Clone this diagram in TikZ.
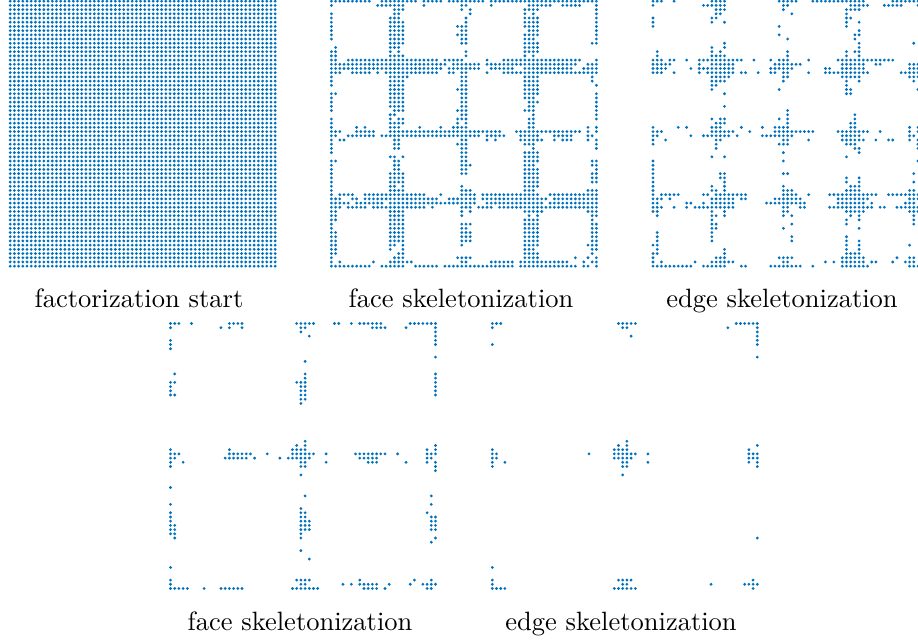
\documentclass[tikz,border=0pt]{standalone}
\usepackage{tikz}
\usepackage{xcolor}
\definecolor{spblue}{HTML}{0072BD}
\tikzset{
  spdot/.style={fill=spblue, draw=none},
  splabel/.style={anchor=base, inner sep=0pt, text=black}
}
\newcommand{\sprow}[2]{\foreach \a/\b in {#2}{\foreach \c in {\a,...,\b}{\fill[spdot] (4.206*\c,4.206*#1) circle (1.55);}}}
\begin{document}
\begin{tikzpicture}[x=0.01326cm, y=-0.01326cm]
\useasboundingbox (0,0) rectangle (918,640);
% factorization start
\begin{scope}[shift={(10.2,1.2)}]
\foreach \r in {0,...,63} {\sprow{\r}{0/63}}
\end{scope}
% face skeletonization
\begin{scope}[shift={(331.4,1.2)}]
\sprow{0}{0/9,12/20,22/26,28/36,38/63}
\sprow{1}{0,11/17,22,31/32,38,47/52,55/59,63}
\sprow{2}{15/17,31,33,46/49,63}
\sprow{3}{0,15/16,33,46,48,63}
\sprow{4}{0,14/16,32,46/49,63}
\sprow{5}{0,14/17,32,46/49,63}
\sprow{6}{0,14/17,30/32,46/49,63}
\sprow{7}{0,14/17,31/32,47/49,63}
\sprow{8}{0,14/17,30/32,46/49,63}
\sprow{9}{0,14/17,31/32,46/48,63}
\sprow{10}{14/17,31/32,46/49,62/63}
\sprow{11}{1,14/16,46/49}
\sprow{12}{0/1,14,16,32,46/49}
\sprow{13}{0/1,14/17,32,46,48}
\sprow{14}{0/1,4/25,27/31,37,41/59,63}
\sprow{15}{0/27,29/35,37/58,61/63}
\sprow{16}{0/26,28,29/35,38/43,46/57,60/63}
\sprow{17}{0/2,5/9,11,13/25,28/29,31/32,37,41/63}
\sprow{18}{0,14/18,31/32,46/49,62}
\sprow{19}{0,14/17,31/32,46/49,62}
\sprow{20}{0,14/17,31/32,46/49,63}
\sprow{21}{14/17,30/32,46/49}
\sprow{22}{0/1,14/17,31/32,46/49,63}
\sprow{23}{0,14/17,31/32,46/48,63}
\sprow{24}{0,14/17,31/32,47/49,63}
\sprow{25}{0,14/17,31/32,47/48,63}
\sprow{26}{0,15/17,30/32,46/48,63}
\sprow{27}{14/15,31/32,48,63}
\sprow{28}{0,14,16/17,30/32,47/48,63}
\sprow{29}{0,14/17,30,32,47/48}
\sprow{30}{0,6,8,14/16,21,26,29/32,47/48,61,63}
\sprow{31}{0/2,6/10,14/40,44/59,61,63}
\sprow{32}{0/1,4/10,12/35,37/41,45/49,53/57,61/62}
\sprow{33}{0,2/3,15/16,31/32,37,39,45/50,53,55/57,61,63}
\sprow{34}{0,15/16,30/32,46/48,63}
\sprow{35}{0,15/16,31/32,48,63}
\sprow{36}{0,31/32,46/49}
\sprow{37}{14/15,17,31/32,46/49}
\sprow{38}{0/1,15/16,31/32,46/49,62/63}
\sprow{39}{0,15/16,31/33,46/48,62/63}
\sprow{40}{0,15/16,31/32,46/49,63}
\sprow{41}{0,14/17,31/32,46/49,62/63}
\sprow{42}{0,14/17,46/49,62/63}
\sprow{43}{0,14/17,46/49,62/63}
\sprow{44}{0,14/15,17,31,46/49}
\sprow{45}{0,14/17,31/33,46/48,61/63}
\sprow{46}{0,2/5,8/22,26,31/34,36/49,52/63}
\sprow{47}{0/2,5/6,8/25,28/34,36/51,53/63}
\sprow{48}{0/4,6/12,14/34,37/50,52/63}
\sprow{49}{0/2,4/8,10/22,24,31/33,35/38,40/63}
\sprow{50}{0/1,14/17,31,33,46/50,61/63}
\sprow{51}{0/1,14/17,31,47,49,62/63}
\sprow{52}{0/1,14/17,46/49,62}
\sprow{53}{0,14/17,31/33,46/49,62/63}
\sprow{54}{0,14/17,31/32,46/49,62/63}
\sprow{55}{0/1,14/17,31/33,46/49,62/63}
\sprow{56}{0/1,14/17,31/33,46/49,62/63}
\sprow{57}{0/1,14/17,31/33,46/49,62/63}
\sprow{58}{0/1,14/15,17,31,46/49,61/63}
\sprow{59}{0/1,14,17,46/48,62/63}
\sprow{60}{0/1,16/17,46/49,62}
\sprow{61}{0,15/17,30/33,46/49,58,61,63}
\sprow{62}{0,2,10,14/19,31/32,38/43,45/56,60,62/63}
\sprow{63}{0/9,12/17,20/25,27/43,45/58,60/61,63}
\end{scope}
% edge skeletonization
\begin{scope}[shift={(653,1.2)}]
\sprow{0}{0/2,5,14/17,30/34,38/50,57/63}
\sprow{1}{0,12/17,31/32,47/51,55/59,63}
\sprow{2}{15/17,31,46/49}
\sprow{3}{15/16,33,46}
\sprow{4}{0,14/15,46/47}
\sprow{5}{0,14,17,46,49}
\sprow{6}{0,30,46}
\sprow{7}{49}
\sprow{8}{30,48/49}
\sprow{9}{32,48}
\sprow{10}{17,49,62}
\sprow{11}{14,17,49}
\sprow{12}{1,14,16,32,46,48/49}
\sprow{13}{1,14/17,32,46,49}
\sprow{14}{0/2,4/5,8,11/21,24,28,30/32,37,44/57}
\sprow{15}{0/4,11,14/19,29/35,45/50,53/54,61/63}
\sprow{16}{0/3,9,11/19,28/33,41/42,45/50,61/63}
\sprow{17}{0/2,5,11,13/19,21/22,25,28/29,31/32,37,41/51,59/63}
\sprow{18}{14/18,31/32,45/49,61/63}
\sprow{19}{14/17,31,46,49,62}
\sprow{20}{14/15,46}
\sprow{21}{14,30,46/47,63}
\sprow{22}{17,46/47}
\sprow{25}{17}
\sprow{26}{32}
\sprow{27}{32,48}
\sprow{28}{14,16/17,30,32,48}
\sprow{29}{15/17,32,47/48}
\sprow{30}{0,6,8,14/16,21,26,29/32,47/48,61,63}
\sprow{31}{0/2,14/19,23,29/38,44/51,54,61,63}
\sprow{32}{0/1,9,12/18,20,26/33,45/49,61/62}
\sprow{33}{0,3,15/16,31/32,37,45/50,53,56/57,61,63}
\sprow{34}{0,15,30/32,46/48,63}
\sprow{35}{15,48/49,63}
\sprow{36}{31,49}
\sprow{37}{14,17,46}
\sprow{38}{0,31,63}
\sprow{39}{0}
\sprow{40}{0}
\sprow{41}{0,16/17,31/32,62}
\sprow{42}{0,16/17,46,49}
\sprow{43}{0,17,46,49,62}
\sprow{44}{0,14,17,31,47/49}
\sprow{45}{0,14/15,17,31/33,46/49,61/62}
\sprow{46}{0,2/6,12/13,15/22,31/34,37,42/53,56/60,61/63}
\sprow{47}{0/2,4,14/19,21/22,29/35,44/51,61/63}
\sprow{48}{0/1,8/9,12,14/19,27/36,44/50,52,60/62}
\sprow{49}{0/2,5,8,10/19,31/32,35/36,42/52,54/55,58/63}
\sprow{50}{0/1,14,17,31/32,46/50,61/63}
\sprow{51}{1,14/15,17,31,33,47,49,62}
\sprow{52}{14,46,49,62}
\sprow{53}{14/15,33,46,62}
\sprow{54}{14/15,31,49}
\sprow{55}{1,14}
\sprow{56}{1,14,33,46}
\sprow{57}{1,14,33,46,49}
\sprow{58}{0/1,46,49,61}
\sprow{59}{1,17,46,49}
\sprow{60}{0/1,17,46/49}
\sprow{61}{0,15/17,30/33,45/50,58,61/62}
\sprow{62}{0,2,10,14/19,31/32,41,43,45/50,52/53,57,60/62}
\sprow{63}{0/9,12/17,21/22,28/35,38,45/51,61/63}
\end{scope}
% face skeletonization, lower row
\begin{scope}[shift={(170.5,323.5)}]
\sprow{0}{0/2,5,14/17,30/34,39/40,43,45/50,57/63}
\sprow{1}{0,12,14,17,31/32,48/51,56,63}
\sprow{2}{31,63}
\sprow{3}{33,63}
\sprow{4}{0,63}
\sprow{5}{0,63}
\sprow{6}{0}
\sprow{8}{63}
\sprow{9}{32}
\sprow{12}{1,32,63}
\sprow{13}{32,63}
\sprow{14}{0/1,30/32,63}
\sprow{15}{0,31/32,63}
\sprow{16}{0,31/32,63}
\sprow{17}{0/1,31/32,63}
\sprow{18}{31/32}
\sprow{19}{31}
\sprow{28}{32}
\sprow{29}{30,32,63}
\sprow{30}{0,14,29/32,61,63}
\sprow{31}{0/2,14/19,23,29/34,37,44/51,54,61/63}
\sprow{32}{0/1,13/18,20,26,28/33,45/49,61/62}
\sprow{33}{0,3,31/32,37,47/49,56,61,63}
\sprow{34}{0,31/32,63}
\sprow{35}{63}
\sprow{36}{31}
\sprow{39}{0}
\sprow{41}{32,62}
\sprow{43}{0,62}
\sprow{44}{31}
\sprow{45}{0,31/32,61}
\sprow{46}{0,31/32,62/63}
\sprow{47}{0,31/33,62/63}
\sprow{48}{0/1,31/33,62/63}
\sprow{49}{0/1,31/33,62/63}
\sprow{50}{0/1,31}
\sprow{51}{1,31,63}
\sprow{52}{62}
\sprow{54}{31}
\sprow{56}{33}
\sprow{58}{0}
\sprow{61}{0,30/33,45,58,62}
\sprow{62}{0,31/32,41,43,45/49,52,57,60/63}
\sprow{63}{0/4,8,12/17,29/35,46/49,51,61/62}
\end{scope}
% edge skeletonization, lower row
\begin{scope}[shift={(492.3,323.5)}]
\sprow{0}{0/2,30/34,58/63}
\sprow{1}{0,31/32,56,63}
\sprow{2}{63}
\sprow{3}{33,63}
\sprow{4}{63}
\sprow{5}{0,63}
\sprow{8}{63}
\sprow{28}{32}
\sprow{29}{30,32,63}
\sprow{30}{0,29/32,61}
\sprow{31}{0/1,23,29/34,37,61/63}
\sprow{32}{0/1,29/33,61/63}
\sprow{33}{0,3,31/32,37,61,63}
\sprow{34}{0,31/32,63}
\sprow{36}{31}
\sprow{51}{63}
\sprow{58}{0}
\sprow{61}{0,30/33,62}
\sprow{62}{0,31/32,52,60/63}
\sprow{63}{0/3,29/34,62}
\end{scope}
\node[splabel] (startlab) at (139,308) {factorization start};
\node[splabel] (facelab) at (461,308) {face skeletonization};
\node[splabel] (edgelab) at (782,308) {edge skeletonization};
\node[splabel] (facelowlab) at (300,630) {face skeletonization};
\node[splabel] (edgelowlab) at (621,630) {edge skeletonization};
\end{tikzpicture}
\end{document}
